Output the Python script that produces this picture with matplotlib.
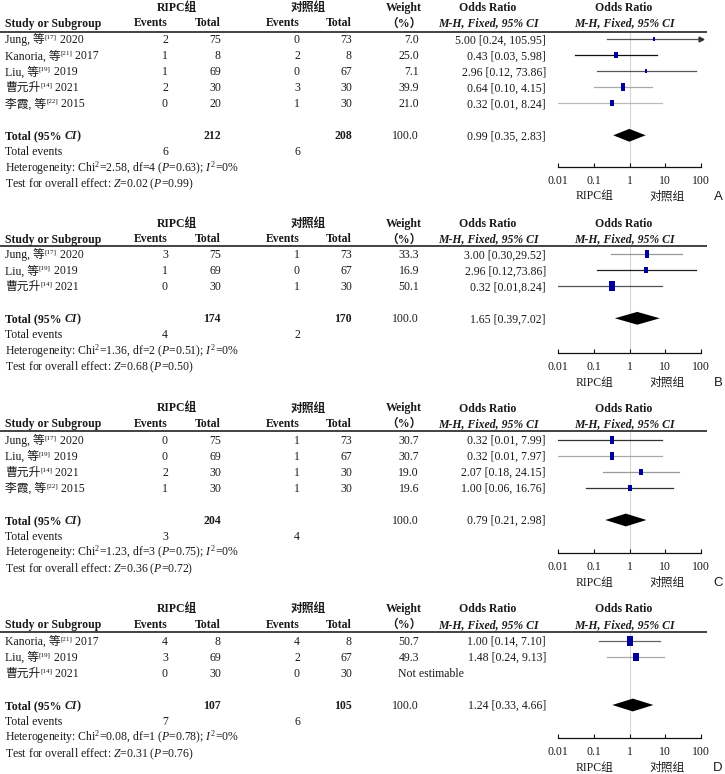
import matplotlib
matplotlib.use('Agg')
import matplotlib.pyplot as plt
import numpy as np

plt.rcParams['font.family'] = ['Liberation Serif', 'Noto Sans CJK SC']
plt.rcParams['mathtext.fontset'] = 'custom'
plt.rcParams['mathtext.rm'] = 'Liberation Serif'
plt.rcParams['mathtext.it'] = 'Liberation Serif:italic'
plt.rcParams['mathtext.bf'] = 'Liberation Serif:bold'

# ---------------- data ----------------
group_exp = "RIPC组"
group_ctl = "对照组"
panel_labels = ["A", "B", "C", "D"]
tick_values = [0.01, 0.1, 1, 10, 100]
tick_labels = ["0.01", "0.1", "1", "10", "100"]

# Panel A
a_names = ["Jung, 等", "Kanoria, 等", "Liu, 等", "曹元升", "李霞, 等"]
a_refs = ["17", "21", "19", "14", "22"]
a_years = ["2020", "2017", "2019", "2021", "2015"]
a_exp_events = [2, 1, 1, 2, 0]
a_exp_total = [75, 8, 69, 30, 20]
a_ctl_events = [0, 2, 0, 3, 1]
a_ctl_total = [73, 8, 67, 30, 30]
a_weight = [7.0, 25.0, 7.1, 39.9, 21.0]
a_or = [5.00, 0.43, 2.96, 0.64, 0.32]
a_lo = [0.24, 0.03, 0.12, 0.10, 0.01]
a_hi = [105.95, 5.98, 73.86, 4.15, 8.24]
a_total_n = [212, 208]
a_total_events = [6, 6]
a_pooled = [0.99, 0.35, 2.83]
a_het = ["2.58", "4", "0.63", "0"]
a_z = ["0.02", "0.99"]

# Panel B
b_names = ["Jung, 等", "Liu, 等", "曹元升"]
b_refs = ["17", "19", "14"]
b_years = ["2020", "2019", "2021"]
b_exp_events = [3, 1, 0]
b_exp_total = [75, 69, 30]
b_ctl_events = [1, 0, 1]
b_ctl_total = [73, 67, 30]
b_weight = [33.3, 16.9, 50.1]
b_or = [3.00, 2.96, 0.32]
b_lo = [0.30, 0.12, 0.01]
b_hi = [29.52, 73.86, 8.24]
b_total_n = [174, 170]
b_total_events = [4, 2]
b_pooled = [1.65, 0.39, 7.02]
b_het = ["1.36", "2", "0.51", "0"]
b_z = ["0.68", "0.50"]

# Panel C
c_names = ["Jung, 等", "Liu, 等", "曹元升", "李霞, 等"]
c_refs = ["17", "19", "14", "22"]
c_years = ["2020", "2019", "2021", "2015"]
c_exp_events = [0, 0, 2, 1]
c_exp_total = [75, 69, 30, 30]
c_ctl_events = [1, 1, 1, 1]
c_ctl_total = [73, 67, 30, 30]
c_weight = [30.7, 30.7, 19.0, 19.6]
c_or = [0.32, 0.32, 2.07, 1.00]
c_lo = [0.01, 0.01, 0.18, 0.06]
c_hi = [7.99, 7.97, 24.15, 16.76]
c_total_n = [204, None]
c_total_events = [3, 4]
c_pooled = [0.79, 0.21, 2.98]
c_het = ["1.23", "3", "0.75", "0"]
c_z = ["0.36", "0.72"]

# Panel D
d_names = ["Kanoria, 等", "Liu, 等", "曹元升"]
d_refs = ["21", "19", "14"]
d_years = ["2017", "2019", "2021"]
d_exp_events = [4, 3, 0]
d_exp_total = [8, 69, 30]
d_ctl_events = [4, 2, 0]
d_ctl_total = [8, 67, 30]
d_weight = [50.7, 49.3, None]
d_or = [1.00, 1.48, None]
d_lo = [0.14, 0.24, None]
d_hi = [7.10, 9.13, None]
d_total_n = [107, 105]
d_total_events = [7, 6]
d_pooled = [1.24, 0.33, 4.66]
d_het = ["0.08", "1", "0.78", "0"]
d_z = ["0.31", "0.76"]

# ---------------- layout / style ----------------
W, H = 725, 774
FS = 8.5
ROW = 16.0
TXT = '#1a1a1a'
SQ = '#00009a'
fig = plt.figure(figsize=(W / 100, H / 100), dpi=100)
ov = fig.add_axes([0, 0, 1, 1])
ov.set_xlim(0, W)
ov.set_ylim(H, 0)
ov.axis('off')
renderer = fig.canvas.get_renderer()

X_STUDY = 5
X_EXP_EV = 168
X_EXP_TOT = 221
X_CTL_EV = 300
X_CTL_TOT = 352
X_GRP_EXP = 177
X_GRP_CTL = 308
X_W_HDR = 404
X_W = 419
X_OR_HDR = 488
X_OR = 546
X_F_HDR = 624
X_AX0, X_AX1 = 558, 701
BASE = 4.0  # baseline offset from visual centre


def rich(x, y, parts, ha='left', size=FS):
    arts, widths = [], []
    for s, kw in parts:
        kw = dict(kw)
        sup = kw.pop('sup', False)
        fs = size * 0.6 if sup else size
        yy = y + BASE - (size * 0.42 * 100 / 72 if sup else 0)
        t = ov.text(0, yy, s, fontsize=fs, va='baseline', ha='left', color=TXT, **kw)
        widths.append(t.get_window_extent(renderer).width)
        arts.append(t)
    total = sum(widths)
    x0 = x if ha == 'left' else (x - total if ha == 'right' else x - total / 2)
    for t, w in zip(arts, widths):
        t.set_x(x0)
        x0 += w


def txt(x, y, s, ha='left', **kw):
    ov.text(x, y + BASE, s, fontsize=kw.pop('fontsize', FS), va='baseline', ha=ha,
            color=kw.pop('color', TXT), **kw)


B = {'fontweight': 'bold'}
BI = {'fontweight': 'bold', 'fontstyle': 'italic'}
N = {}

panels = [
    dict(names=a_names, refs=a_refs, years=a_years, ee=a_exp_events, et=a_exp_total,
         ce=a_ctl_events, ct=a_ctl_total, w=a_weight, orr=a_or, lo=a_lo, hi=a_hi,
         tn=a_total_n, tev=a_total_events, pooled=a_pooled, het=a_het, z=a_z,
         sep=", ", ys=(7, 22.5, 31.5, 39.3, 167),
         lc=['#555555', '#111111', '#555555', '#aaaaaa', '#bbbbbb']),
    dict(names=b_names, refs=b_refs, years=b_years, ee=b_exp_events, et=b_exp_total,
         ce=b_ctl_events, ct=b_ctl_total, w=b_weight, orr=b_or, lo=b_lo, hi=b_hi,
         tn=b_total_n, tev=b_total_events, pooled=b_pooled, het=b_het, z=b_z,
         sep=",", ys=(223, 238.5, 245.5, 254.3, 353.3),
         lc=['#999999', '#222222', '#555555']),
    dict(names=c_names, refs=c_refs, years=c_years, ee=c_exp_events, et=c_exp_total,
         ce=c_ctl_events, ct=c_ctl_total, w=c_weight, orr=c_or, lo=c_lo, hi=c_hi,
         tn=c_total_n, tev=c_total_events, pooled=c_pooled, het=c_het, z=c_z,
         sep=", ", ys=(407.5, 423, 431.3, 440, 553.3),
         lc=['#333333', '#aaaaaa', '#999999', '#333333']),
    dict(names=d_names, refs=d_refs, years=d_years, ee=d_exp_events, et=d_exp_total,
         ce=d_ctl_events, ct=d_ctl_total, w=d_weight, orr=d_or, lo=d_lo, hi=d_hi,
         tn=d_total_n, tev=d_total_events, pooled=d_pooled, het=d_het, z=d_z,
         sep=", ", ys=(608, 624, 631.7, 641, 738.3),
         lc=['#666666', '#aaaaaa', '#999999']),
]

rect_marker = [(-0.62, -1), (0.62, -1), (0.62, 1), (-0.62, 1), (-0.62, -1)]

for p, lab in zip(panels, panel_labels):
    hy, cy, ly, fy, axy = p['ys']
    n = len(p['names'])
    # headers
    rich(X_GRP_EXP, hy, [("RIPC组", B)], ha='center')
    rich(X_GRP_CTL, hy, [("对照组", B)], ha='center')
    txt(X_W_HDR, hy, "Weight", ha='center', fontweight='bold')
    txt(X_W_HDR, cy, "（%）", ha='center', fontweight='bold')
    for xh in (X_OR_HDR, X_F_HDR):
        txt(xh, hy, "Odds Ratio", ha='center', fontweight='bold')
        txt(xh, cy, "M-H, Fixed, 95% CI", ha='center', fontweight='bold', fontstyle='italic')
    txt(X_STUDY, cy, "Study or Subgroup", fontweight='bold')
    rx_ev = [X_EXP_EV, X_CTL_EV]
    txt(X_EXP_EV, cy, "Events", ha='right', fontweight='bold')
    txt(X_EXP_TOT, cy, "Total", ha='right', fontweight='bold')
    txt(X_CTL_EV, cy, "Events", ha='right', fontweight='bold')
    txt(X_CTL_TOT, cy, "Total", ha='right', fontweight='bold')
    ov.plot([0, 707], [ly, ly], color='#222222', lw=1.2, solid_capstyle='butt')

    # study rows
    for i in range(n):
        y = fy + ROW * i
        rich(X_STUDY, y, [(p['names'][i], N), ("[" + p['refs'][i] + "]", {'sup': True}),
                          (" " + p['years'][i], N)])
        txt(X_EXP_EV, y, str(p['ee'][i]), ha='right')
        txt(X_EXP_TOT, y, str(p['et'][i]), ha='right')
        txt(X_CTL_EV, y, str(p['ce'][i]), ha='right')
        txt(X_CTL_TOT, y, str(p['ct'][i]), ha='right')
        if p['w'][i] is None:
            txt(398, y, "Not estimable")
        else:
            txt(X_W, y, f"{p['w'][i]:.1f}", ha='right')
            txt(X_OR, y, f"{p['orr'][i]:.2f} [{p['lo'][i]:.2f}{p['sep']}{p['hi'][i]:.2f}]", ha='right')

    # totals
    ty = fy + ROW * (n + 1)
    rich(X_STUDY, ty, [("Total (95% ", B), ("CI", BI), (")", B)])
    if p['tn'][0] is not None:
        txt(X_EXP_TOT, ty, str(p['tn'][0]), ha='right', fontweight='bold')
    if p['tn'][1] is not None:
        txt(X_CTL_TOT, ty, str(p['tn'][1]), ha='right', fontweight='bold')
    txt(X_W, ty, "100.0", ha='right')
    po = p['pooled']
    txt(X_OR, ty, f"{po[0]:.2f} [{po[1]:.2f}{p['sep']}{po[2]:.2f}]", ha='right')
    ey = fy + ROW * (n + 2)
    txt(X_STUDY, ey, "Total events")
    txt(X_EXP_EV, ey, str(p['tev'][0]), ha='right')
    txt(X_CTL_EV, ey, str(p['tev'][1]), ha='right')
    h = p['het']
    txt(X_STUDY, fy + ROW * (n + 3),
        "Heterogeneity: Chi$^2$=" + h[0] + ", df=" + h[1] + " ($P$=" + h[2] + "); $I^2$=" + h[3] + "%")
    txt(X_STUDY, fy + ROW * (n + 4),
        "Test for overall effect: $Z$=" + p['z'][0] + " ($P$=" + p['z'][1] + ")")

    # forest axes
    ax = fig.add_axes([X_AX0 / W, 1 - axy / H, (X_AX1 - X_AX0) / W, (axy - ly - 1) / H])
    ax.set_xscale('log')
    ax.set_xlim(tick_values[0], tick_values[-1])
    ax.set_ylim((axy - fy) / ROW, (ly + 1 - fy) / ROW)
    for s in ['top', 'left', 'right']:
        ax.spines[s].set_visible(False)
    ax.spines['bottom'].set_linewidth(0.9)
    ax.spines['bottom'].set_color('#111111')
    ax.set_yticks([])
    ax.set_xticks(tick_values)
    ax.set_xticklabels(tick_labels)
    ax.minorticks_off()
    ax.tick_params(axis='x', direction='in', length=3, width=0.8, pad=5.5,
                   labelsize=FS, colors='#111111', labelcolor=TXT)
    ax.patch.set_alpha(0)
    ax.axvline(1, color='#d5d5d5', lw=0.8, zorder=0)
    for i in range(n):
        if p['orr'][i] is None:
            continue
        hi = min(p['hi'][i], tick_values[-1])
        ax.plot([p['lo'][i], hi], [i, i], color=p['lc'][i], lw=0.9, zorder=2)
        if p['hi'][i] > tick_values[-1]:
            ax.plot([hi], [i], marker='>', ms=3.5, color='#333333', clip_on=False, zorder=3)
        hpx = 9.0 * np.sqrt(p['w'][i] / 50.0)
        ms = hpx / (100 / 72)
        ax.scatter([p['orr'][i]], [i], marker=rect_marker, s=ms ** 2, color=SQ,
                   linewidths=0, zorder=4)
    t = n + 1
    ax.fill([po[1], po[0], po[2], po[0]], [t, t - 0.4, t, t + 0.4], color='black',
            lw=0, zorder=4)

    gy = axy + 28.5
    rich(595, gy, [(group_exp, N)], ha='center')
    rich(667, gy, [(group_ctl, N)], ha='center')
    ov.text(718, gy + 4.5, lab, fontsize=9.5, family='Liberation Sans', va='baseline',
            ha='center', color=TXT)

fig.savefig('out.png', dpi=100)
